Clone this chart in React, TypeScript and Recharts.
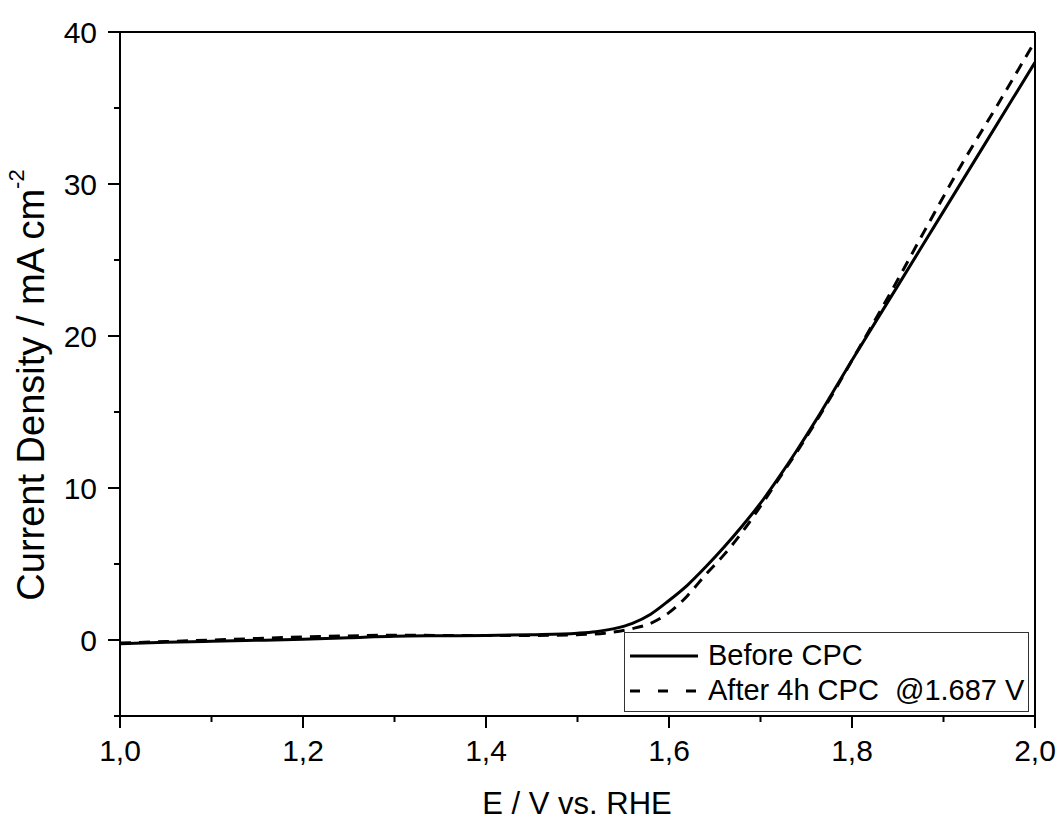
import React from "react"
import { LineChart, Line, XAxis, YAxis, ReferenceLine, Legend } from "recharts"

const FONT = '"Liberation Sans", Arial, sans-serif'

// axis ticks (every minor position; labels only on the major ones)
const xTicks = [1.0, 1.1, 1.2, 1.3, 1.4, 1.5, 1.6, 1.7, 1.8, 1.9, 2.0]
const yTicks = [-5, 0, 5, 10, 15, 20, 25, 30, 35, 40]

// Before CPC (solid)
const beforePotential = [1.0, 1.05, 1.1, 1.15, 1.2, 1.25, 1.3, 1.35, 1.4, 1.45, 1.5, 1.52, 1.54, 1.56, 1.58, 1.6, 1.62, 1.64, 1.66, 1.68, 1.7, 1.72, 1.74, 1.76, 1.78, 1.8, 1.85, 1.9, 1.95, 2.0]
const beforeCurrent = [-0.25, -0.15, -0.08, -0.02, 0.05, 0.15, 0.25, 0.28, 0.3, 0.35, 0.45, 0.55, 0.75, 1.1, 1.7, 2.6, 3.6, 4.8, 6.1, 7.5, 9.0, 10.7, 12.5, 14.4, 16.4, 18.4, 23.3, 28.2, 33.1, 38.0]

// After 4h CPC (dashed)
const afterPotential = [1.0, 1.05, 1.1, 1.15, 1.2, 1.25, 1.3, 1.35, 1.4, 1.45, 1.5, 1.53, 1.56, 1.58, 1.6, 1.62, 1.64, 1.66, 1.68, 1.7, 1.72, 1.74, 1.76, 1.78, 1.8, 1.82, 1.85, 1.88, 1.92, 1.96, 2.0]
const afterCurrent = [-0.2, -0.1, 0.0, 0.1, 0.2, 0.27, 0.32, 0.3, 0.3, 0.3, 0.35, 0.45, 0.75, 1.1, 1.8, 2.9, 4.3, 5.6, 7.1, 8.8, 10.6, 12.4, 14.3, 16.3, 18.4, 20.5, 23.7, 27.0, 31.3, 35.3, 39.4]

const beforeData = beforePotential.map((e, i) => ({ E: e, j: beforeCurrent[i] }))
const afterData = afterPotential.map((e, i) => ({ E: e, j: afterCurrent[i] }))

function XTick(props: any) {
  const { x, y, payload } = props
  const v = payload.value as number
  const major = Math.round(v * 10) % 2 === 0
  return (
    <g>
      <line x1={x} x2={x} y1={y} y2={y + (major ? 12 : 6)} stroke="#000" strokeWidth={2} />
      {major && (
        <text x={x} y={y + 45} textAnchor="middle" fontSize={30} fontFamily={FONT} fill="#000">
          {v.toFixed(1).replace(".", ",")}
        </text>
      )}
    </g>
  )
}

function YTick(props: any) {
  const { x, y, payload } = props
  const v = payload.value as number
  const major = v % 10 === 0
  return (
    <g>
      <line x1={x - (major ? 12 : 6)} x2={x} y1={y} y2={y} stroke="#000" strokeWidth={2} />
      {major && (
        <text x={x - 23} y={y} dy="0.36em" textAnchor="end" fontSize={30} fontFamily={FONT} fill="#000">
          {v}
        </text>
      )}
    </g>
  )
}

// legend wrapper is kept at zero size so it takes no room from the plot
function LegendBox() {
  const row = (dash: string | undefined, label: string) => (
    <div style={{ display: "flex", alignItems: "center", height: 35 }}>
      <svg width={80} height={20} style={{ flex: "none" }}>
        <line x1={5} x2={73} y1={10} y2={10} stroke="#000" strokeWidth={3} strokeDasharray={dash} />
      </svg>
      <span style={{ marginLeft: 3, whiteSpace: "pre" }}>{label}</span>
    </div>
  )
  return (
    <div
      style={{
        position: "absolute",
        left: 0,
        top: 0,
        width: 405,
        height: 80,
        boxSizing: "border-box",
        border: "1px solid #333",
        background: "#fff",
        fontFamily: FONT,
        fontSize: 29,
        color: "#000",
        paddingTop: 5,
      }}
    >
      {row(undefined, "Before CPC")}
      {row("10 18", "After 4h CPC  @1.687 V")}
    </div>
  )
}

export default function App() {
  return (
    <div style={{ position: "absolute", left: 0, top: 0, width: 1061, height: 822, background: "#fff" }}>
      <LineChart width={1061} height={822} margin={{ top: 32, right: 26, left: 0, bottom: 0 }}>
        <XAxis
          dataKey="E"
          type="number"
          domain={[1, 2]}
          ticks={xTicks}
          allowDataOverflow
          height={106}
          tickSize={0}
          tickMargin={0}
          tickLine={false}
          axisLine={{ stroke: "#000", strokeWidth: 2 }}
          tick={<XTick />}
          interval={0}
        />
        <YAxis
          type="number"
          domain={[-5, 40]}
          ticks={yTicks}
          allowDataOverflow
          width={120}
          tickSize={0}
          tickMargin={0}
          tickLine={false}
          axisLine={{ stroke: "#000", strokeWidth: 2 }}
          tick={<YTick />}
          interval={0}
        />
        <ReferenceLine y={40} stroke="#000" strokeWidth={2} />
        <ReferenceLine x={2} stroke="#000" strokeWidth={2} />
        <Line
          data={beforeData}
          dataKey="j"
          name="Before CPC"
          type="monotone"
          stroke="#000"
          strokeWidth={3}
          dot={false}
          isAnimationActive={false}
        />
        <Line
          data={afterData}
          dataKey="j"
          name="After 4h CPC @1.687 V"
          type="monotone"
          stroke="#000"
          strokeWidth={3}
          strokeDasharray="11 8"
          dot={false}
          isAnimationActive={false}
        />
        <Legend
          content={<LegendBox />}
          wrapperStyle={{ left: 624, top: 632, width: 0, height: 0, bottom: "auto", right: "auto", overflow: "visible" }}
        />
        <text x={577} y={814} textAnchor="middle" fontSize={31} fontFamily={FONT} fill="#000">
          E / V vs. RHE
        </text>
        <text
          transform="translate(44, 385) rotate(-90)"
          textAnchor="middle"
          fontSize={38}
          fontFamily={FONT}
          fill="#000"
        >
          Current Density / mA cm
          <tspan fontSize={22} dy={-20}>-2</tspan>
        </text>
      </LineChart>
    </div>
  )
}
